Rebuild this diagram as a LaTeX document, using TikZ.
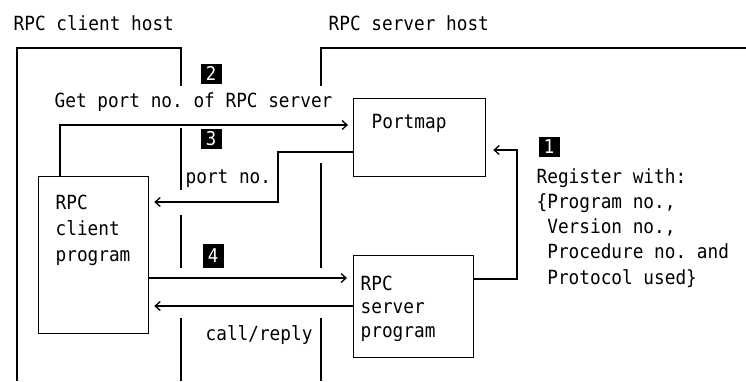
\documentclass[tikz,border=0pt]{standalone}
\usepackage{fontspec}
\setmonofont[FakeStretch=0.91]{DejaVu Sans Mono}
\usetikzlibrary{arrows.meta}
\begin{document}
\begin{tikzpicture}[x=1pt,y=-1pt,
  line width=1.3pt,
  txt/.style={anchor=base west,inner sep=0,font=\ttfamily\fontsize{19.5}{25}\selectfont},
  boxn/.style={draw,anchor=north west,inner sep=0,rectangle},
  num/.style={fill=black,text=white,anchor=north west,inner sep=0,minimum width=21pt,minimum height=20pt,font=\ttfamily\fontsize{19}{19}\selectfont},
  arr/.style={-{Straight Barb[length=5pt,width=9pt]}},
  hostline/.style={line width=1.3pt}]
\useasboundingbox (0,0) rectangle (746,381);
% host titles
\node[txt] (clienthost) at (13,30) {RPC client host};
\node[txt] (serverhost) at (328,30) {RPC server host};
% host boundaries
\draw[hostline] (17,381) -- (17,48) -- (181,48) -- (181,86);
\draw[hostline] (181,128) -- (181,190);
\draw[hostline] (181,215) -- (181,268);
\draw[hostline] (181,318) -- (181,381);
\draw[hostline] (746,48) -- (321,48) -- (321,86);
\draw[hostline] (321,163) -- (321,268);
\draw[hostline] (321,318) -- (321,381);
% boxes
\node[boxn,minimum width=110pt,minimum height=157pt] (client) at (38,176) {};
\node[boxn,minimum width=132pt,minimum height=78pt] (portmap) at (353,98) {};
\node[boxn,minimum width=120pt,minimum height=102pt] (server) at (353,255) {};
% box texts
\node[txt] (c1) at (55,209) {RPC};
\node[txt] (c2) at (55,235) {client};
\node[txt] (c3) at (55,261) {program};
\node[txt] (pm) at (371,128) {Portmap};
\node[txt] (s1) at (360,290) {RPC};
\node[txt] (s2) at (360,313.5) {server};
\node[txt] (s3) at (360,337) {program};
% number badges
\node[num] (n2) at (200,63) {2};
\node[num] (n3) at (200,128) {3};
\node[num,minimum height=24pt] (n4) at (202,243) {4};
\node[num] (n1) at (538,136) {1};
% labels
\node[txt] (getport) at (54,107) {Get port no. of RPC server};
\node[txt] (portno) at (185,183) {port no.};
\node[txt] (callreply) at (205,340) {call/reply};
\node[txt] (r1) at (536,183) {Register with:};
\node[txt] (r2) at (536,208) {\{Program no.,};
\node[txt] (r3) at (536,233) {\ Version no.,};
\node[txt] (r4) at (536,258) {\ Procedure no. and};
\node[txt] (r5) at (536,284) {\ Protocol used\}};
% connectors
\coordinate (k2) at (60,125);
\coordinate (k3) at (278,202);
\coordinate (k1) at (517,150);
\draw[arr,shorten >=5pt] ([xshift=22pt]client.north west) |- (k2) -- (portmap.west |- k2);
\draw[arr,shorten >=5pt] (portmap.west |- 0,152) -| (k3) -- (client.east |- k3);
\draw[arr,shorten >=6pt] (client.east |- 0,278) -- (server.west |- 0,278);
\draw[arr,shorten >=5pt] (server.west |- 0,306) -- (client.east |- 0,306);
\draw[arr,shorten >=7pt] (server.east |- 0,279) -| (k1) -- (portmap.east |- k1);
\end{tikzpicture}
\end{document}
